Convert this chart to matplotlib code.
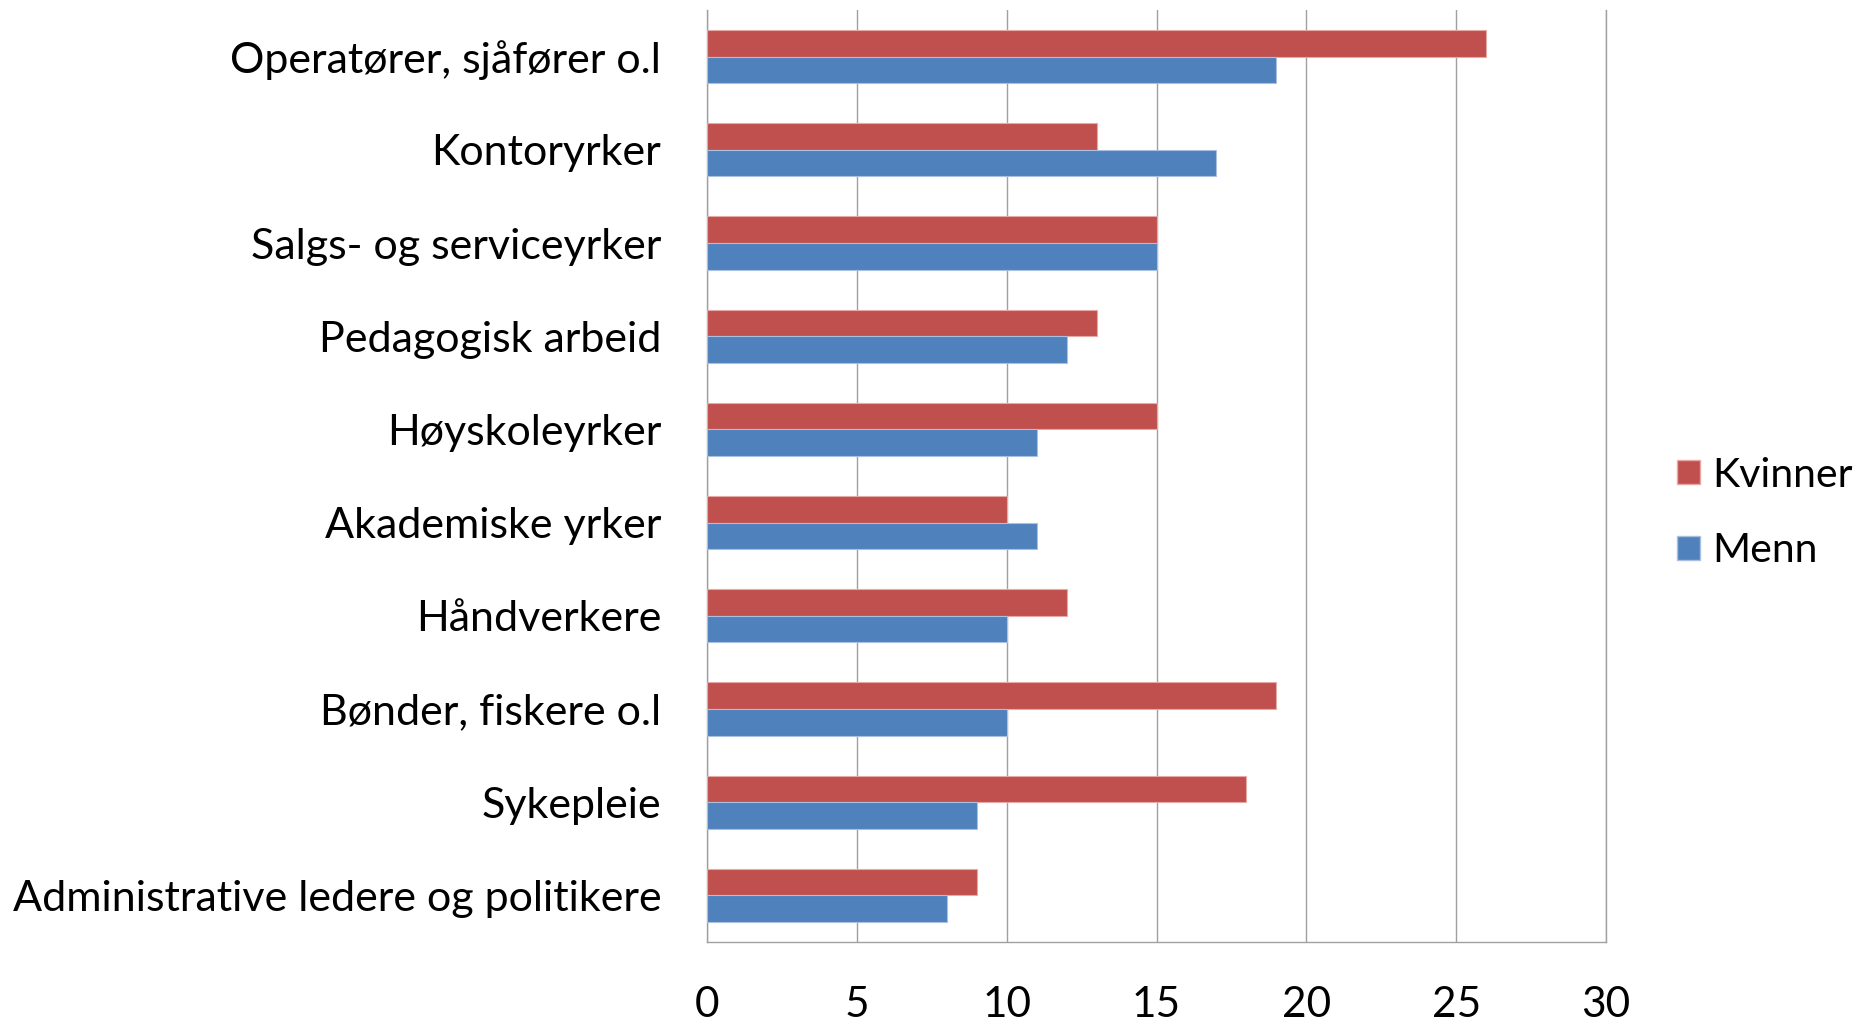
import matplotlib
matplotlib.use("Agg")
import matplotlib.pyplot as plt
import numpy as np
from matplotlib.patches import Patch

categories = [
    "Operatører, sjåfører o.l",
    "Kontoryrker",
    "Salgs- og serviceyrker",
    "Pedagogisk arbeid",
    "Høyskoleyrker",
    "Akademiske yrker",
    "Håndverkere",
    "Bønder, fiskere o.l",
    "Sykepleie",
    "Administrative ledere og politikere",
]
kvinner = [26, 13, 15, 13, 15, 10, 12, 19, 18, 9]
menn = [19, 17, 15, 12, 11, 11, 10, 10, 9, 8]
xticks = [0, 5, 10, 15, 20, 25, 30]

RED = "#C0504D"
BLUE = "#4F81BD"
GRID = "#A0A0A0"

plt.rcParams["font.family"] = ["Lato", "DejaVu Sans"]

fig = plt.figure(figsize=(18.64, 10.23), dpi=100)
ax = fig.add_axes([0.3793, 0.0792, 0.4823, 0.9110])

y = np.arange(len(categories))
h = 1 / 3.5
ax.barh(y - h / 2, kvinner, height=h, color=RED, edgecolor="#E6A9A7", linewidth=0.8, zorder=3)
ax.barh(y + h / 2, menn, height=h, color=BLUE, edgecolor="#A9C0E0", linewidth=0.8, zorder=3)

ax.set_xlim(0, 30)
ax.set_ylim(len(categories) - 0.5, -0.5)
ax.set_xticks(xticks)
ax.set_xticklabels([str(t) for t in xticks], fontsize=30.5)
ax.set_yticks(y)
ax.set_yticklabels(categories, fontsize=31)
ax.tick_params(axis="x", length=0, pad=32)
ax.tick_params(axis="y", length=0, pad=33)
ax.grid(axis="x", color=GRID, linewidth=1.0, zorder=0)

ax.spines["top"].set_visible(False)
for side in ["left", "bottom", "right"]:
    ax.spines[side].set_color(GRID)
    ax.spines[side].set_linewidth(1.0)

handles = [Patch(facecolor=RED, edgecolor="#E6A9A7"), Patch(facecolor=BLUE, edgecolor="#A9C0E0")]
fig.legend(
    handles,
    ["Kvinner", "Menn"],
    loc="center left",
    bbox_to_anchor=(0.8844, 0.4985),
    frameon=False,
    fontsize=29.5,
    handlelength=0.55,
    handleheight=0.55,
    handletextpad=0.3,
    labelspacing=0.95,
    borderpad=0.2,
)

fig.savefig("out.png", dpi=100)
